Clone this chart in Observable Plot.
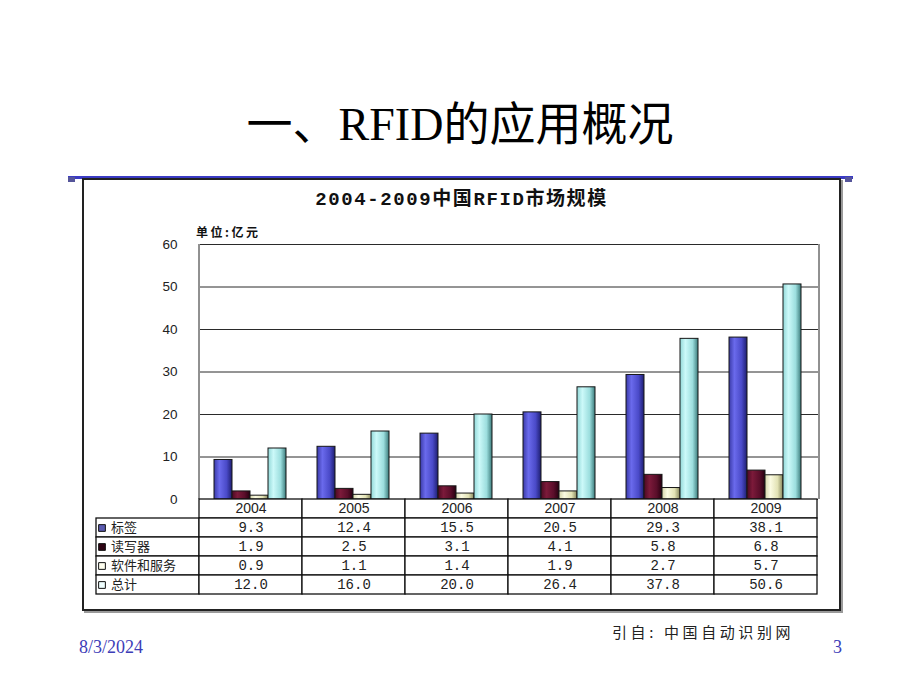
<!DOCTYPE html>
<html><head><meta charset="utf-8">
<script src="https://cdn.jsdelivr.net/npm/d3@7"></script>
<script src="https://cdn.jsdelivr.net/npm/@observablehq/plot@0.6"></script>
<style>
html,body{margin:0;padding:0;background:#fff;width:920px;height:690px;overflow:hidden;}
body{position:relative;font-family:"Liberation Sans","Noto Sans CJK SC",sans-serif;}
.abs{position:absolute;white-space:nowrap;}
#title{left:0;width:920px;top:95px;text-align:center;font-family:"Liberation Serif","Noto Sans CJK SC",serif;font-size:46px;line-height:60px;color:#000;}
#rule{left:68px;top:176px;width:785px;height:3px;background:#3b3bc4;}
#capL{left:68px;top:177px;width:7px;height:5px;background:#55559a;}
#capR{left:845px;top:177px;width:7px;height:5px;background:#55559a;}
#frame{left:82px;top:178px;width:755px;height:429px;border:2px solid #222;box-shadow:2px 2px 0 #9a9a9a;background:#fff;}
#ctitle{left:82px;width:759px;top:188px;text-align:center;font-family:"Liberation Mono","Noto Sans CJK SC",monospace;font-weight:bold;font-size:19px;line-height:24px;letter-spacing:1.6px;color:#111;}
#unit{left:196px;top:224px;font-family:"Noto Sans CJK SC",sans-serif;font-weight:bold;font-size:12px;line-height:16px;letter-spacing:2.5px;color:#111;}
#date{left:79px;top:636px;font-family:"Liberation Serif",serif;font-size:18px;line-height:22px;color:#3d3db8;}
#page{left:833px;top:636px;font-family:"Liberation Serif",serif;font-size:18px;line-height:22px;color:#3d3db8;}
#source{left:612px;top:622px;font-family:"Noto Sans CJK SC",sans-serif;font-size:15px;line-height:20px;letter-spacing:3.6px;color:#222;}
svg.abs{position:absolute;}
</style></head><body>
<div id="title" class="abs">一、RFID的应用概况</div>
<div id="rule" class="abs"></div>
<div id="capL" class="abs"></div>
<div id="capR" class="abs"></div>
<div id="frame" class="abs"></div>
<div id="ctitle" class="abs">2004-2009中国RFID市场规模</div>
<div id="unit" class="abs">单位:亿元</div>
<div id="source" class="abs">引自: 中国自动识别网</div>
<div id="date" class="abs">8/3/2024</div>
<div id="page" class="abs">3</div>
<script>
// ---- data ----
const years = ["2004","2005","2006","2007","2008","2009"];
const seriesNames = ["标签","读写器","软件和服务","总计"];
const tags = [9.3,12.4,15.5,20.5,29.3,38.1];
const readers = [1.9,2.5,3.1,4.1,5.8,6.8];
const software = [0.9,1.1,1.4,1.9,2.7,5.7];
const totals = [12.0,16.0,20.0,26.4,37.8,50.6];
const yTicks = [0,10,20,30,40,50,60];

// ---- styles ----
const gradStops = {
  "g-tag": [[0,"#3a3aa8"],[0.3,"#6a6aec"],[0.7,"#4a4ac8"],[1,"#1e1e70"]],
  "g-reader": [[0,"#4a0a22"],[0.3,"#7c1a3a"],[0.7,"#5a0e2a"],[1,"#260010"]],
  "g-soft": [[0,"#d4d4aa"],[0.3,"#fbfbe2"],[0.7,"#e2e2b4"],[1,"#86865c"]],
  "g-total": [[0,"#92d8d8"],[0.3,"#ccf9f9"],[0.7,"#9cdede"],[1,"#3c7c7c"]]
};
const gradFill = {"标签":"url(#g-tag)","读写器":"url(#g-reader)","软件和服务":"url(#g-soft)","总计":"url(#g-total)"};
const legendFill = {"标签":"#5a5ab0","读写器":"#2e0414","软件和服务":"#fffff0","总计":"#f0ffff"};

const seriesArrays = [tags, readers, software, totals];
const rows = years.flatMap((yr, i) => seriesArrays.map((arr, k) => ({year: yr, series: seriesNames[k], value: arr[i]})));

function addGradients(svg) {
  const defs = d3.select(svg).insert("defs", ":first-child");
  for (const [id, stops] of Object.entries(gradStops)) {
    const g = defs.append("linearGradient").attr("id", id)
      .attr("x1","0").attr("x2","1").attr("y1","0").attr("y2","0");
    stops.forEach(([o, c]) => g.append("stop").attr("offset", o).attr("stop-color", c));
  }
}

// ---- bar chart ----
const W = 679, H = 275, ML = 49, MR = 10, MT = 19, MB = 1;
const chart = Plot.plot({
  width: W, height: H, marginLeft: ML, marginRight: MR, marginTop: MT, marginBottom: MB,
  style: {background: "transparent", fontFamily: "'Liberation Sans', sans-serif", fontSize: "13px", color: "#222", overflow: "visible"},
  fx: {domain: years, padding: 0, axis: null, label: null},
  x: {domain: seriesNames, paddingInner: 0, paddingOuter: 0.72, align: 0.44, axis: null, label: null},
  y: {domain: [0, 60], axis: null},
  color: {type: "identity"},
  marks: [
    Plot.ruleY(yTicks, {stroke: "#2a2a2a", strokeWidth: 1}),
    Plot.barY(rows, {fx: "year", x: "series", y: "value", fill: d => gradFill[d.series], stroke: "#161616", strokeWidth: 1}),
    Plot.text(yTicks, {fx: () => years[0], y: d => d, text: d => String(d), frameAnchor: "left", textAnchor: "end", dx: -23, fill: "#222", fontSize: 13.5})
  ]
});
addGradients(chart);
{
  const s = d3.select(chart);
  const yr = chart.scale("y").range;
  [ML, W - MR].forEach(x => s.append("line").attr("x1", x).attr("x2", x).attr("y1", yr[0]).attr("y2", yr[1]).attr("stroke", "#222").attr("stroke-width", 1));
}
chart.classList.add("abs");
chart.style.left = "150px";
chart.style.top = "225px";
chart.style.maxWidth = "none";
document.body.appendChild(chart);

// ---- data table ----
const headerCells = years.map(y => ({col: y, row: "header"}));
const labelCells = seriesNames.map(n => ({col: "label", row: n}));
const valueCells = seriesNames.flatMap((n, k) => years.map((y, i) => ({col: y, row: n, value: seriesArrays[k][i]})));
const table = Plot.plot({
  width: 730, height: 102, marginLeft: 6, marginRight: 3, marginTop: 4, marginBottom: 3,
  style: {background: "transparent", color: "#222", overflow: "visible"},
  x: {type: "band", domain: ["label", ...years], padding: 0, axis: null},
  y: {type: "band", domain: ["header", ...seriesNames], padding: 0, axis: null},
  color: {type: "identity"},
  marks: [
    Plot.cell([...headerCells, ...labelCells, ...valueCells], {x: "col", y: "row", fill: "white", stroke: "#111", strokeWidth: 1.3, inset: 0}),
    Plot.text(years, {x: d => d, y: () => "header", text: d => d, fontSize: 14, fontFamily: "'Liberation Sans', sans-serif", fill: "#222"}),
    Plot.text(valueCells, {x: "col", y: "row", text: d => d.value.toFixed(1), fontSize: 14, fontFamily: "'Liberation Mono', monospace", fill: "#222"}),
    Plot.dot(seriesNames, {x: () => "label", y: d => d, symbol: "square", r: 3.8, fill: d => legendFill[d], stroke: "#111", strokeWidth: 1, dx: -46}),
    Plot.text(seriesNames, {x: () => "label", y: d => d, text: d => d, textAnchor: "start", dx: -37, fontSize: 13, fontFamily: "'Noto Sans CJK SC', sans-serif", fill: "#222", ariaLabel: "series-label"})
  ]
});
d3.select(table).selectAll('g[aria-label="series-label"] text').style("letter-spacing", "2.5px");
table.classList.add("abs");
table.style.left = "90px";
table.style.top = "495px";
table.style.maxWidth = "none";
document.body.appendChild(table);
</script>
</body></html>
